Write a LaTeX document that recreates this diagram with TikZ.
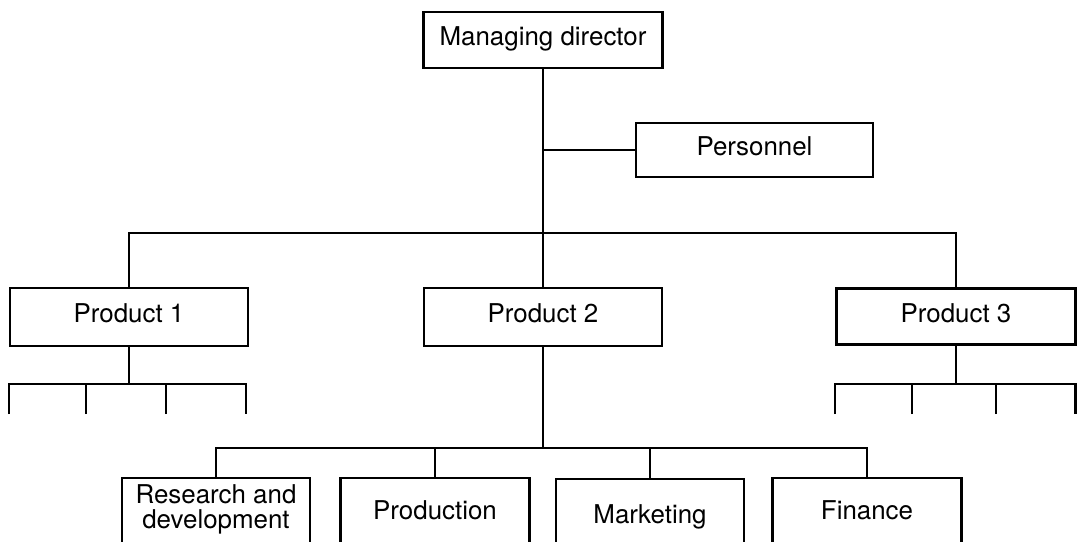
\documentclass[tikz,border=0pt]{standalone}
\usepackage{fontspec}
\setmainfont{TeX Gyre Heros}
\begin{document}
\begin{tikzpicture}[x=1bp,y=-1bp,
  line width=2.2bp, line join=miter,
  unit/.style={draw, inner sep=0pt, font=\fontsize{26}{25}\selectfont,
    text height=19bp, text depth=7bp, align=center},
  dept/.style={unit, minimum width=188bp, minimum height=70bp, anchor=north}]
\useasboundingbox (0,0) rectangle (1077,542);

% top level
\node[unit, minimum width=239bp, minimum height=56bp] (md) at (543,40) {Managing director};
\node[unit, minimum width=237bp, minimum height=54bp] (per) at (754.5,150) {Personnel};

% product divisions
\node[unit, minimum width=238bp, minimum height=58bp] (p1) at (129,317) {Product 1};
\node[unit, minimum width=238bp, minimum height=58bp] (p2) at (543,317) {Product 2};
\node[unit, minimum width=239bp, minimum height=56bp] (p3) at (956,316.5) {Product 3};

% functional departments under product 2
\node[dept, text height=37bp] (rd) at (216,477) {Research and\\development};
\node[dept, minimum width=189bp] (prod) at (435,477) {Production};
\node[dept, text depth=1bp] (mkt) at (650,478) {Marketing};
\node[dept, minimum width=189bp] (fin) at (867,477) {Finance};

% junction points
\coordinate (bus) at (543,233);
\coordinate (j1) at (129,384);
\coordinate (j2) at (543,448);
\coordinate (j3) at (956,384);
\coordinate (t11) at (9,414);
\coordinate (t12) at (86,414);
\coordinate (t13) at (166,414);
\coordinate (t14) at (246,414);
\coordinate (t31) at (835,414);
\coordinate (t32) at (912,414);
\coordinate (t33) at (996,414);
\coordinate (t34) at (1075.5,414);

% connectors
\draw (md.south) -- (p2.north);
\draw (md.south |- per.west) -- (per.west);
\draw (p1.north) |- (bus) -| (p3.north);

\draw (p1.south) -- (j1);
\draw (t11) -- (t11 |- j1) -- (t14 |- j1) -- (t14);
\draw (t12) -- (t12 |- j1);
\draw (t13) -- (t13 |- j1);

\draw (p3.south) -- (j3);
\draw (t31) -- (t31 |- j3) -- (t34 |- j3) -- (t34);
\draw (t32) -- (t32 |- j3);
\draw (t33) -- (t33 |- j3);

\draw (p2.south) -- (j2);
\draw (rd.north) |- (j2) -| (fin.north);
\draw (prod.north) -- (prod.north |- j2);
\draw (mkt.north) -- (mkt.north |- j2);
\end{tikzpicture}
\end{document}
